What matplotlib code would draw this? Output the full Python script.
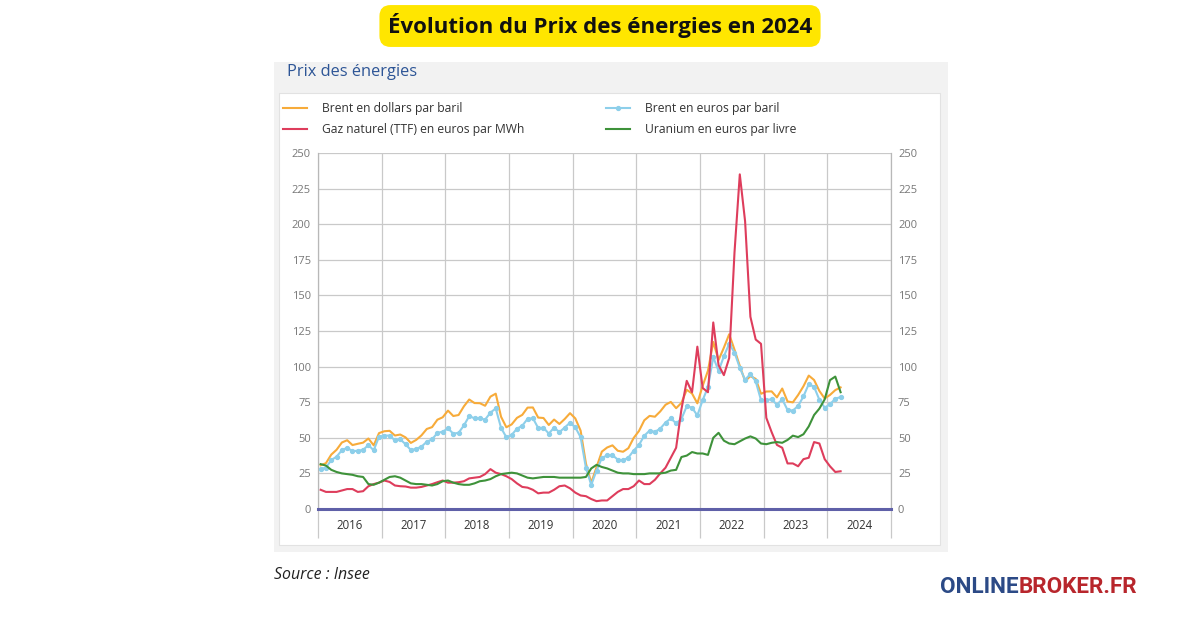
import matplotlib
matplotlib.use("Agg")
import matplotlib.pyplot as plt
from matplotlib.patches import Rectangle
import numpy as np

plt.rcParams['font.family'] = ['Open Sans', 'DejaVu Sans']

# monthly values, Jan 2016 -> Mar 2024
brent_usd = [30.7, 32.2, 38.2, 41.6, 46.7, 48.3, 44.9, 45.8, 46.6, 49.5, 44.7, 53.3,
             54.6, 54.9, 51.6, 52.3, 50.3, 46.4, 48.5, 51.7, 56.2, 57.5, 62.7, 64.4,
             69.1, 65.3, 66.0, 72.1, 76.9, 74.4, 74.3, 72.5, 78.9, 81.0, 64.8, 57.4,
             59.4, 64.0, 66.1, 71.2, 71.3, 64.2, 63.9, 59.0, 62.8, 59.7, 63.2, 67.3,
             63.6, 55.0, 32.0, 18.4, 29.4, 40.3, 43.2, 44.7, 40.9, 40.2, 42.7, 49.9,
             54.8, 62.3, 65.4, 64.8, 68.5, 73.2, 75.2, 70.8, 74.5, 83.7, 81.1, 74.2,
             86.5, 97.1, 117.3, 104.6, 113.3, 122.7, 111.9, 100.5, 89.8, 93.3, 91.4, 80.9,
             82.5, 82.6, 78.4, 84.6, 75.5, 74.9, 80.1, 86.2, 93.7, 90.6, 82.9, 77.6,
             80.1, 83.5, 85.4]
brent_eur = [28.2, 29.0, 34.4, 36.7, 41.3, 43.0, 40.6, 40.9, 41.5, 44.9, 41.2, 50.8,
             51.5, 51.6, 48.2, 48.9, 45.5, 41.4, 42.2, 43.8, 47.2, 48.9, 53.4, 54.3,
             56.6, 52.9, 53.5, 58.7, 65.2, 63.7, 63.6, 62.8, 67.7, 70.6, 57.0, 50.4,
             52.0, 56.4, 58.5, 63.3, 63.8, 56.9, 57.0, 53.0, 57.1, 54.0, 57.2, 60.6,
             57.3, 50.4, 28.9, 16.9, 27.0, 35.8, 37.7, 37.8, 34.7, 34.2, 36.1, 41.0,
             45.0, 51.5, 55.0, 54.2, 56.4, 60.7, 63.6, 60.2, 63.2, 72.2, 71.1, 65.7,
             76.4, 85.6, 106.6, 96.9, 107.2, 116.1, 109.9, 99.2, 90.7, 94.9, 89.6, 76.4,
             76.5, 77.1, 73.2, 77.1, 69.5, 69.1, 72.4, 79.1, 87.7, 85.8, 76.7, 71.2,
             73.5, 77.5, 78.6]
gaz_ttf = [13.5, 12.0, 12.0, 12.0, 13.0, 14.0, 14.0, 12.0, 12.5, 16.0, 17.5, 18.5,
           20.0, 19.0, 16.5, 16.0, 15.8, 15.0, 15.0, 15.5, 16.5, 17.5, 18.8, 20.0,
           18.5, 18.5, 18.8, 19.5, 21.5, 22.0, 22.5, 24.5, 28.0, 25.5, 24.5, 23.0,
           21.0, 18.0, 15.5, 15.0, 13.5, 11.0, 11.5, 11.5, 13.5, 16.0, 16.5, 14.5,
           11.5, 9.5, 9.0, 7.0, 5.5, 6.0, 6.0, 9.0, 12.0, 14.0, 14.0, 16.0,
           20.0, 17.5, 17.5, 20.5, 25.0, 29.0, 36.0, 43.0, 70.0, 90.0, 82.0, 114.0,
           85.0, 82.0, 131.0, 101.0, 94.0, 106.0, 180.0, 235.0, 202.0, 135.0, 119.0, 116.0,
           64.0, 54.0, 45.0, 43.0, 32.0, 32.0, 30.0, 35.0, 36.0, 47.0, 46.0, 35.0,
           30.0, 26.0, 26.5]
uranium = [31.5, 30.5, 27.5, 26.0, 25.0, 24.5, 24.0, 23.0, 22.5, 17.5, 17.0, 18.5,
           20.5, 22.5, 23.0, 22.0, 20.0, 18.0, 17.5, 17.5, 17.0, 16.5, 17.5, 19.5,
           20.0, 18.5, 17.5, 17.0, 17.0, 18.0, 19.5, 20.0, 21.0, 23.0, 24.5, 25.0,
           25.5, 25.0, 23.5, 22.0, 21.5, 22.0, 22.5, 22.5, 22.5, 22.0, 22.0, 22.0,
           22.0, 22.0, 22.5, 28.5, 31.0, 29.5, 28.5, 27.0, 25.5, 25.0, 25.0, 24.5,
           24.5, 24.5, 25.0, 25.0, 25.0, 25.5, 27.0, 27.5, 36.5, 37.5, 40.0, 39.0,
           39.0, 38.0, 50.0, 53.5, 48.0, 46.0, 45.5, 47.5, 49.5, 51.0, 49.5, 46.0,
           45.5, 46.5, 47.0, 46.5, 48.5, 51.5, 50.5, 52.5, 58.0, 66.0, 70.5, 77.0,
           90.5, 93.0, 82.0]
years = list(range(2016, 2025))
labels = ["Brent en dollars par baril", "Gaz naturel (TTF) en euros par MWh",
          "Brent en euros par baril", "Uranium en euros par livre"]

W, H = 1200, 630


def fx(px):
    return px / W


def fy(py):
    return 1 - py / H


fig = plt.figure(figsize=(12, 6.3), dpi=100)
fig.patch.set_facecolor('white')

# grey panel + white card behind the chart
fig.patches.append(Rectangle((fx(274), fy(552)), fx(948) - fx(274), fy(62) - fy(552),
                             transform=fig.transFigure, fc='#f2f2f2', ec='none', zorder=-3))
fig.patches.append(Rectangle((fx(279), fy(545)), fx(940) - fx(279), fy(93) - fy(545),
                             transform=fig.transFigure, fc='white', ec='#e2e2e2', lw=0.8, zorder=-2))

fig.text(fx(287), fy(71.5), "Prix des énergies", color='#2d5596', fontsize=11.8,
         ha='left', va='center')

ax = fig.add_axes([fx(318), fy(509), fx(891) - fx(318), fy(153) - fy(509)])
ax.set_facecolor('none')

n = len(brent_usd)
x = 2016 + (np.arange(n) + 0.5) / 12

l1, = ax.plot(x, brent_usd, color='#f7ab3a', lw=1.5, zorder=3)
l3, = ax.plot(x, brent_eur, color='#8dcfea', lw=1.5, marker='o', ms=2.8, zorder=3)
l2, = ax.plot(x, gaz_ttf, color='#de3d5c', lw=1.5, zorder=4)
l4, = ax.plot(x, uranium, color='#3e923a', lw=1.5, zorder=4)

ax.axhline(0, color='#5f60a8', lw=2.2, zorder=5, clip_on=False)

ax.set_xlim(2016, 2025)
ax.set_ylim(0, 250)
ax.set_yticks(np.arange(0, 251, 25))
ax.set_xticks(np.arange(2016, 2026))
ax.set_xticks([y + 0.5 for y in years], minor=True)
ax.set_xticklabels([])
ax.set_xticklabels([str(y) for y in years], minor=True)
ax.grid(True, which='major', color='#c9c9c9', lw=0.9, zorder=1)
ax.tick_params(axis='x', which='major', length=21, color='#c9c9c9', width=0.9)
ax.tick_params(axis='x', which='minor', length=0, pad=7, labelsize=8.3, labelcolor='#333333')
ax.tick_params(axis='y', length=0, pad=5, labelsize=8, labelcolor='#777777')
for s in ['top', 'bottom']:
    ax.spines[s].set_visible(False)
for s in ['left', 'right']:
    ax.spines[s].set_color('#b8b8b8')
    ax.spines[s].set_linewidth(0.9)

ax2 = ax.twinx()
ax2.set_ylim(0, 250)
ax2.set_yticks(np.arange(0, 251, 25))
ax2.tick_params(axis='y', length=0, pad=5, labelsize=8, labelcolor='#777777')
for s in ax2.spines.values():
    s.set_visible(False)

fig.legend([l1, l2, l3, l4], labels, loc='upper left',
           bbox_to_anchor=(fx(283), fy(102)), ncol=2, frameon=False,
           borderpad=0, borderaxespad=0,
           fontsize=8.7, handlelength=2.0, handletextpad=1.25,
           columnspacing=6.7, labelspacing=0.68, labelcolor='#333333')

# title banner
fig.text(0.5, fy(26), "Évolution du Prix des énergies en 2024", fontsize=16,
         fontweight='bold', ha='center', va='center', color='#111111',
         bbox=dict(boxstyle='round,pad=0.38,rounding_size=0.5', fc='#ffe600', ec='none'))

fig.text(fx(274), fy(575), "Source : Insee", fontsize=11.4, style='italic',
         ha='left', va='center', color='#222222')

t1 = fig.text(fx(940), fy(587), "ONLINE", fontsize=16.2, fontweight='bold',
              family='Roboto', color='#2c4a86', ha='left', va='center')
fig.canvas.draw()
bb = t1.get_window_extent()
fig.text(bb.x1 / fig.bbox.width, fy(587), "BROKER.FR", fontsize=16.2, fontweight='bold',
         family='Roboto', color='#b8262c', ha='left', va='center')

fig.savefig("out.png", dpi=100)
